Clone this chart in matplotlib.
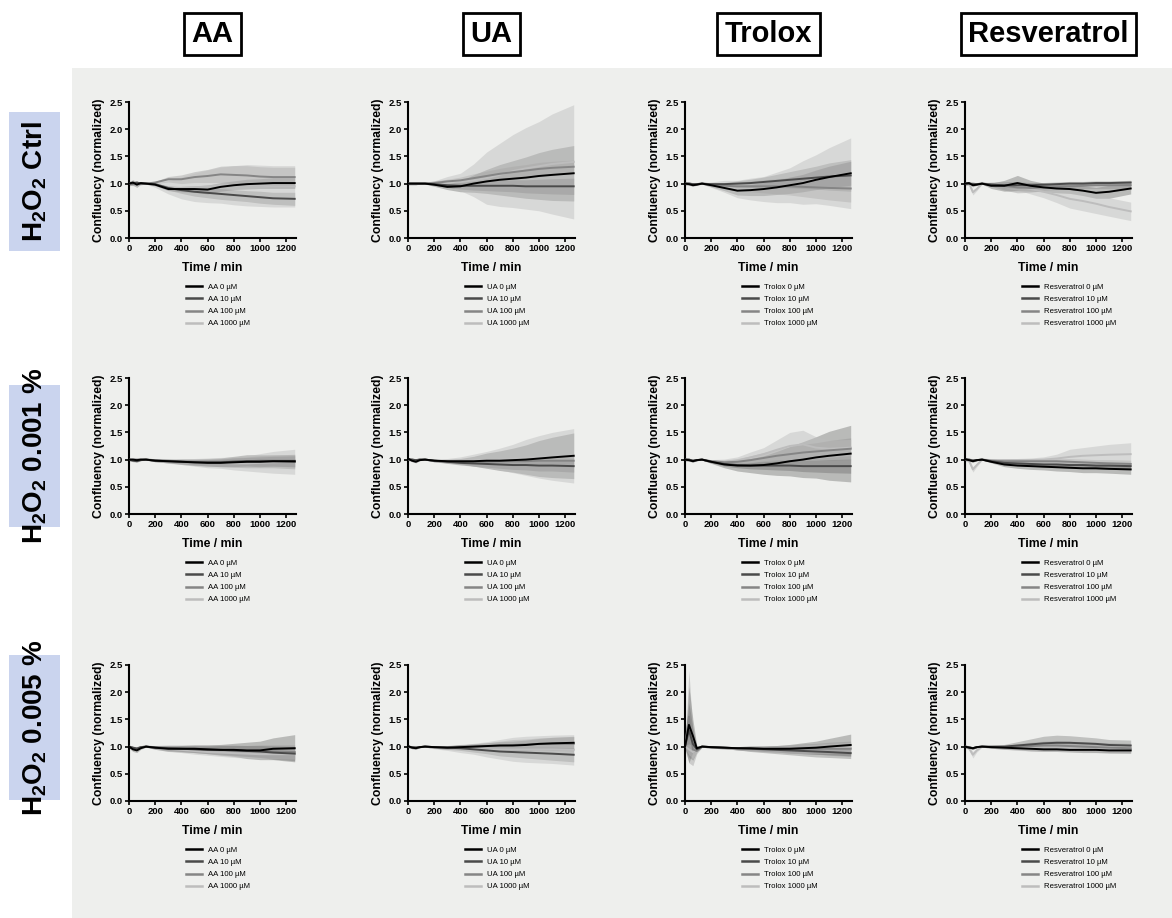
import matplotlib
matplotlib.use("Agg")
import matplotlib.pyplot as plt
from matplotlib.patches import Rectangle
import numpy as np

plt.rcParams['font.family'] = ['Liberation Sans', 'DejaVu Sans']
plt.rcParams['mathtext.default'] = 'regular'

# ---- data ----
drugs = ["AA", "UA", "Trolox", "Resveratrol"]
doses = [0, 10, 100, 1000]
row_labels = ["H$_2$O$_2$ Ctrl", "H$_2$O$_2$ 0.001 %", "H$_2$O$_2$ 0.005 %"]

time_min = [0, 30, 60, 90, 130, 200, 300, 400, 500, 600, 700, 800, 900, 1000, 1100, 1265]

# row 1: H2O2 ctrl
aa_ctrl_mean = [
    [1.0, 1.02, 0.98, 1.01, 1.0, 0.98, 0.9, 0.9, 0.9, 0.89, 0.94, 0.97, 0.99, 1.0, 1.01, 1.01],
    [1.0, 1.0, 1.02, 1.0, 1.0, 0.99, 0.92, 0.88, 0.85, 0.83, 0.81, 0.79, 0.77, 0.75, 0.73, 0.72],
    [1.0, 1.01, 1.0, 1.0, 1.0, 1.02, 1.08, 1.08, 1.12, 1.14, 1.17, 1.16, 1.15, 1.13, 1.12, 1.12],
    [1.0, 1.0, 1.0, 1.0, 1.0, 0.97, 0.93, 0.92, 0.93, 0.95, 0.97, 0.97, 0.97, 0.96, 0.95, 0.95]]
aa_ctrl_sd = [
    [0.04, 0.05, 0.05, 0.02, 0.01, 0.02, 0.03, 0.05, 0.06, 0.08, 0.08, 0.08, 0.09, 0.09, 0.1, 0.1],
    [0.03, 0.03, 0.03, 0.02, 0.01, 0.02, 0.04, 0.06, 0.08, 0.09, 0.1, 0.1, 0.1, 0.11, 0.11, 0.12],
    [0.02, 0.03, 0.03, 0.02, 0.01, 0.02, 0.05, 0.08, 0.1, 0.12, 0.15, 0.17, 0.18, 0.18, 0.18, 0.18],
    [0.03, 0.04, 0.04, 0.02, 0.01, 0.04, 0.12, 0.2, 0.26, 0.3, 0.33, 0.36, 0.38, 0.38, 0.38, 0.38]]

ua_ctrl_mean = [
    [1.0, 1.0, 1.0, 1.0, 1.0, 0.98, 0.94, 0.95, 1.0, 1.04, 1.07, 1.09, 1.11, 1.14, 1.16, 1.19],
    [1.0, 1.0, 1.0, 1.0, 1.0, 0.99, 0.97, 0.96, 0.96, 0.96, 0.96, 0.96, 0.95, 0.95, 0.95, 0.95],
    [1.0, 1.0, 1.0, 1.0, 1.0, 1.01, 1.04, 1.06, 1.1, 1.14, 1.18, 1.21, 1.24, 1.27, 1.29, 1.31],
    [1.0, 1.0, 1.0, 1.0, 1.0, 1.02, 1.05, 1.03, 1.06, 1.1, 1.16, 1.23, 1.28, 1.32, 1.36, 1.4]]
ua_ctrl_sd = [
    [0.02, 0.02, 0.02, 0.01, 0.01, 0.03, 0.05, 0.1, 0.16, 0.22, 0.28, 0.33, 0.38, 0.43, 0.47, 0.51],
    [0.02, 0.02, 0.02, 0.01, 0.01, 0.02, 0.04, 0.06, 0.08, 0.09, 0.1, 0.11, 0.12, 0.13, 0.14, 0.15],
    [0.02, 0.02, 0.02, 0.01, 0.01, 0.02, 0.04, 0.06, 0.08, 0.09, 0.1, 0.11, 0.11, 0.12, 0.12, 0.12],
    [0.02, 0.02, 0.02, 0.01, 0.01, 0.03, 0.08, 0.16, 0.3, 0.48, 0.58, 0.67, 0.75, 0.82, 0.92, 1.05]]

trolox_ctrl_mean = [
    [1.0, 0.99, 0.97, 0.98, 1.0, 0.97, 0.92, 0.87, 0.88, 0.9, 0.93, 0.97, 1.01, 1.07, 1.12, 1.19],
    [1.0, 1.0, 0.99, 0.99, 1.0, 0.99, 0.99, 1.0, 1.01, 1.03, 1.05, 1.07, 1.09, 1.11, 1.13, 1.15],
    [1.0, 1.0, 0.99, 0.99, 1.0, 0.98, 0.96, 0.95, 0.95, 0.95, 0.95, 0.95, 0.94, 0.93, 0.92, 0.91],
    [1.0, 1.0, 0.99, 0.99, 1.0, 0.98, 0.95, 0.9, 0.9, 0.9, 0.93, 0.97, 1.02, 1.08, 1.13, 1.19]]
trolox_ctrl_sd = [
    [0.02, 0.02, 0.02, 0.01, 0.01, 0.03, 0.05, 0.08, 0.1, 0.12, 0.13, 0.15, 0.16, 0.18, 0.2, 0.22],
    [0.02, 0.02, 0.02, 0.01, 0.01, 0.02, 0.03, 0.05, 0.07, 0.09, 0.12, 0.15, 0.18, 0.21, 0.25, 0.29],
    [0.02, 0.02, 0.02, 0.01, 0.01, 0.03, 0.05, 0.08, 0.1, 0.12, 0.14, 0.16, 0.18, 0.2, 0.22, 0.25],
    [0.03, 0.03, 0.03, 0.01, 0.01, 0.05, 0.11, 0.16, 0.2, 0.23, 0.28, 0.32, 0.4, 0.45, 0.53, 0.65]]

resv_ctrl_mean = [
    [1.0, 1.01, 0.97, 0.98, 1.0, 0.96, 0.96, 1.01, 0.96, 0.93, 0.91, 0.9, 0.87, 0.83, 0.85, 0.91],
    [1.0, 1.0, 0.99, 0.99, 1.0, 0.98, 0.97, 0.97, 0.97, 0.98, 0.99, 1.0, 1.0, 1.01, 1.01, 1.02],
    [1.0, 1.0, 1.0, 0.99, 1.0, 0.99, 0.96, 0.93, 0.92, 0.93, 0.94, 0.95, 0.96, 0.97, 0.97, 0.97],
    [1.0, 1.01, 0.84, 0.9, 1.0, 0.98, 0.97, 0.95, 0.9, 0.85, 0.79, 0.72, 0.68, 0.63, 0.57, 0.49]]
resv_ctrl_sd = [
    [0.03, 0.03, 0.03, 0.01, 0.01, 0.05, 0.1, 0.14, 0.1, 0.08, 0.08, 0.08, 0.09, 0.1, 0.12, 0.1],
    [0.02, 0.02, 0.02, 0.01, 0.01, 0.03, 0.05, 0.06, 0.05, 0.04, 0.04, 0.04, 0.04, 0.04, 0.04, 0.04],
    [0.02, 0.02, 0.02, 0.01, 0.01, 0.04, 0.08, 0.1, 0.08, 0.06, 0.05, 0.05, 0.05, 0.06, 0.06, 0.07],
    [0.03, 0.03, 0.05, 0.03, 0.01, 0.03, 0.05, 0.07, 0.09, 0.11, 0.14, 0.17, 0.18, 0.18, 0.17, 0.17]]

# row 2: H2O2 0.001 %
aa_low_mean = [
    [1.0, 1.0, 0.99, 1.0, 1.0, 0.98, 0.97, 0.96, 0.95, 0.94, 0.94, 0.95, 0.96, 0.96, 0.97, 0.97],
    [1.0, 0.98, 0.97, 0.99, 1.0, 0.98, 0.97, 0.96, 0.95, 0.95, 0.95, 0.96, 0.97, 0.97, 0.97, 0.96],
    [1.0, 1.0, 1.0, 1.0, 1.0, 0.99, 0.98, 0.97, 0.96, 0.96, 0.96, 0.97, 0.97, 0.98, 0.98, 0.98],
    [1.0, 1.0, 1.0, 1.0, 1.0, 0.99, 0.97, 0.96, 0.95, 0.94, 0.94, 0.93, 0.93, 0.94, 0.95, 0.96]]
aa_low_sd = [
    [0.02, 0.02, 0.02, 0.01, 0.01, 0.02, 0.03, 0.04, 0.05, 0.06, 0.07, 0.08, 0.08, 0.09, 0.09, 0.1],
    [0.02, 0.02, 0.02, 0.01, 0.01, 0.02, 0.03, 0.05, 0.06, 0.07, 0.08, 0.1, 0.12, 0.12, 0.12, 0.13],
    [0.02, 0.02, 0.02, 0.01, 0.01, 0.02, 0.03, 0.04, 0.05, 0.05, 0.06, 0.07, 0.08, 0.09, 0.1, 0.12],
    [0.02, 0.02, 0.02, 0.01, 0.01, 0.02, 0.04, 0.05, 0.07, 0.09, 0.1, 0.12, 0.14, 0.17, 0.2, 0.23]]

ua_low_mean = [
    [1.02, 0.98, 0.96, 0.99, 1.0, 0.98, 0.97, 0.97, 0.97, 0.98, 0.98, 0.99, 1.0, 1.02, 1.04, 1.07],
    [1.0, 1.0, 0.99, 1.0, 1.0, 0.98, 0.96, 0.94, 0.93, 0.92, 0.91, 0.9, 0.9, 0.89, 0.89, 0.88],
    [1.0, 1.0, 0.99, 1.0, 1.0, 0.98, 0.97, 0.96, 0.96, 0.96, 0.97, 0.97, 0.97, 0.98, 0.98, 0.98],
    [1.0, 1.0, 0.98, 1.0, 1.0, 0.98, 0.98, 0.98, 0.99, 1.0, 1.01, 1.02, 1.04, 1.05, 1.06, 1.07]]
ua_low_sd = [
    [0.02, 0.02, 0.02, 0.01, 0.01, 0.02, 0.03, 0.05, 0.09, 0.14, 0.18, 0.22, 0.27, 0.33, 0.37, 0.42],
    [0.02, 0.02, 0.02, 0.01, 0.01, 0.02, 0.03, 0.04, 0.05, 0.06, 0.07, 0.08, 0.09, 0.1, 0.1, 0.11],
    [0.02, 0.02, 0.02, 0.01, 0.01, 0.02, 0.03, 0.04, 0.05, 0.05, 0.06, 0.06, 0.07, 0.07, 0.08, 0.08],
    [0.02, 0.02, 0.02, 0.01, 0.01, 0.02, 0.04, 0.07, 0.11, 0.15, 0.2, 0.26, 0.33, 0.39, 0.44, 0.5]]

trolox_low_mean = [
    [1.0, 0.99, 0.97, 0.99, 1.0, 0.96, 0.91, 0.89, 0.89, 0.9, 0.93, 0.97, 1.0, 1.04, 1.07, 1.11],
    [1.0, 1.0, 0.98, 0.99, 1.0, 0.96, 0.92, 0.9, 0.89, 0.89, 0.89, 0.89, 0.88, 0.88, 0.88, 0.88],
    [1.0, 1.0, 0.98, 0.99, 1.0, 0.97, 0.95, 0.96, 0.99, 1.03, 1.07, 1.1, 1.13, 1.15, 1.17, 1.2],
    [1.0, 1.0, 0.98, 0.99, 1.0, 0.97, 0.96, 0.98, 1.04, 1.1, 1.18, 1.25, 1.28, 1.22, 1.2, 1.22]]
trolox_low_sd = [
    [0.02, 0.02, 0.02, 0.01, 0.01, 0.03, 0.06, 0.1, 0.13, 0.17, 0.22, 0.27, 0.33, 0.38, 0.45, 0.52],
    [0.02, 0.02, 0.02, 0.01, 0.01, 0.02, 0.04, 0.05, 0.06, 0.07, 0.08, 0.09, 0.1, 0.11, 0.12, 0.13],
    [0.02, 0.02, 0.02, 0.01, 0.01, 0.03, 0.04, 0.06, 0.08, 0.1, 0.12, 0.14, 0.15, 0.16, 0.18, 0.2],
    [0.02, 0.02, 0.02, 0.01, 0.01, 0.03, 0.05, 0.07, 0.1, 0.12, 0.18, 0.25, 0.26, 0.2, 0.16, 0.15]]

resv_low_mean = [
    [1.01, 0.99, 0.97, 0.99, 1.0, 0.96, 0.91, 0.89, 0.88, 0.87, 0.86, 0.85, 0.84, 0.84, 0.83, 0.82],
    [1.0, 1.0, 0.98, 0.99, 1.0, 0.97, 0.94, 0.93, 0.92, 0.91, 0.91, 0.9, 0.9, 0.89, 0.89, 0.88],
    [1.0, 1.0, 0.99, 0.99, 1.0, 0.98, 0.97, 0.97, 0.97, 0.97, 0.97, 0.96, 0.95, 0.94, 0.93, 0.92],
    [1.0, 0.98, 0.82, 0.9, 1.0, 0.99, 0.99, 0.99, 0.99, 1.0, 1.02, 1.05, 1.07, 1.08, 1.09, 1.1]]
resv_low_sd = [
    [0.02, 0.02, 0.02, 0.01, 0.01, 0.02, 0.04, 0.05, 0.06, 0.06, 0.07, 0.07, 0.08, 0.08, 0.08, 0.09],
    [0.02, 0.02, 0.02, 0.01, 0.01, 0.02, 0.03, 0.04, 0.04, 0.05, 0.05, 0.06, 0.06, 0.06, 0.07, 0.07],
    [0.02, 0.02, 0.02, 0.01, 0.01, 0.02, 0.03, 0.04, 0.05, 0.05, 0.05, 0.06, 0.06, 0.06, 0.07, 0.07],
    [0.02, 0.03, 0.05, 0.03, 0.01, 0.02, 0.03, 0.03, 0.04, 0.05, 0.08, 0.14, 0.15, 0.17, 0.19, 0.21]]

# row 3: H2O2 0.005 %
aa_high_mean = [
    [1.0, 0.95, 0.93, 0.97, 1.0, 0.98, 0.96, 0.96, 0.96, 0.95, 0.94, 0.94, 0.93, 0.93, 0.96, 0.97],
    [1.0, 0.98, 0.96, 0.99, 1.0, 0.98, 0.97, 0.96, 0.95, 0.94, 0.94, 0.93, 0.92, 0.91, 0.89, 0.87],
    [1.0, 0.98, 0.97, 0.99, 1.0, 0.99, 0.98, 0.97, 0.96, 0.95, 0.94, 0.93, 0.92, 0.92, 0.91, 0.9],
    [1.0, 0.97, 0.95, 0.98, 1.0, 0.98, 0.96, 0.94, 0.92, 0.9, 0.89, 0.88, 0.87, 0.86, 0.86, 0.86]]
aa_high_sd = [
    [0.03, 0.04, 0.04, 0.02, 0.01, 0.03, 0.05, 0.06, 0.07, 0.08, 0.1, 0.12, 0.15, 0.17, 0.2, 0.25],
    [0.02, 0.02, 0.02, 0.01, 0.01, 0.02, 0.04, 0.05, 0.06, 0.07, 0.08, 0.09, 0.1, 0.11, 0.12, 0.13],
    [0.02, 0.02, 0.02, 0.01, 0.01, 0.03, 0.05, 0.06, 0.07, 0.08, 0.09, 0.1, 0.1, 0.11, 0.12, 0.13],
    [0.02, 0.03, 0.03, 0.01, 0.01, 0.03, 0.04, 0.05, 0.06, 0.06, 0.07, 0.08, 0.08, 0.08, 0.08, 0.09]]

ua_high_mean = [
    [1.01, 0.98, 0.97, 0.99, 1.0, 0.99, 0.98, 0.99, 1.0, 1.01, 1.02, 1.02, 1.03, 1.05, 1.06, 1.07],
    [1.0, 0.99, 0.98, 0.99, 1.0, 0.99, 0.98, 0.97, 0.95, 0.93, 0.91, 0.9, 0.89, 0.88, 0.87, 0.85],
    [1.0, 0.99, 0.99, 0.99, 1.0, 0.99, 0.99, 1.0, 1.0, 1.01, 1.02, 1.03, 1.04, 1.05, 1.05, 1.05],
    [1.0, 0.98, 0.97, 0.99, 1.0, 0.98, 0.97, 0.96, 0.96, 0.95, 0.95, 0.95, 0.95, 0.95, 0.95, 0.94]]
ua_high_sd = [
    [0.02, 0.02, 0.02, 0.01, 0.01, 0.02, 0.03, 0.04, 0.05, 0.06, 0.07, 0.08, 0.09, 0.1, 0.11, 0.12],
    [0.02, 0.02, 0.02, 0.01, 0.01, 0.02, 0.03, 0.04, 0.05, 0.06, 0.08, 0.09, 0.1, 0.11, 0.12, 0.13],
    [0.02, 0.02, 0.02, 0.01, 0.01, 0.02, 0.03, 0.04, 0.05, 0.06, 0.08, 0.1, 0.1, 0.11, 0.12, 0.13],
    [0.02, 0.02, 0.02, 0.01, 0.01, 0.02, 0.04, 0.07, 0.1, 0.14, 0.18, 0.22, 0.24, 0.25, 0.26, 0.28]]

trolox_high_mean = [
    [1.0, 1.4, 1.2, 0.97, 1.0, 0.99, 0.98, 0.97, 0.97, 0.96, 0.96, 0.96, 0.97, 0.98, 1.0, 1.03],
    [1.0, 1.3, 1.05, 0.95, 1.0, 0.99, 0.98, 0.97, 0.96, 0.95, 0.94, 0.93, 0.92, 0.91, 0.9, 0.88],
    [1.0, 1.55, 0.95, 0.92, 1.0, 0.99, 0.98, 0.97, 0.96, 0.96, 0.96, 0.96, 0.96, 0.96, 0.96, 0.96],
    [1.0, 0.95, 0.9, 0.95, 1.0, 0.99, 0.98, 0.97, 0.96, 0.95, 0.95, 0.95, 0.95, 0.96, 0.97, 0.98]]
trolox_high_sd = [
    [0.03, 0.7, 0.3, 0.05, 0.01, 0.02, 0.02, 0.03, 0.04, 0.05, 0.06, 0.08, 0.1, 0.12, 0.15, 0.2],
    [0.03, 0.5, 0.3, 0.05, 0.01, 0.02, 0.02, 0.03, 0.05, 0.06, 0.07, 0.08, 0.09, 0.1, 0.1, 0.1],
    [0.03, 0.85, 0.3, 0.05, 0.01, 0.02, 0.02, 0.03, 0.04, 0.05, 0.06, 0.07, 0.09, 0.1, 0.12, 0.14],
    [0.03, 0.1, 0.12, 0.05, 0.01, 0.02, 0.02, 0.03, 0.04, 0.05, 0.06, 0.07, 0.08, 0.08, 0.09, 0.1]]

resv_high_mean = [
    [1.0, 0.98, 0.97, 0.99, 1.0, 0.99, 0.98, 0.97, 0.96, 0.95, 0.95, 0.94, 0.94, 0.94, 0.93, 0.93],
    [1.0, 0.99, 0.97, 0.99, 1.0, 1.0, 1.0, 1.02, 1.04, 1.06, 1.07, 1.07, 1.06, 1.05, 1.03, 1.02],
    [1.0, 0.99, 0.97, 0.99, 1.0, 0.99, 0.99, 1.0, 1.01, 1.02, 1.02, 1.01, 1.0, 0.99, 0.98, 0.97],
    [1.0, 0.97, 0.85, 0.93, 1.0, 0.99, 0.98, 0.97, 0.97, 0.97, 0.97, 0.97, 0.96, 0.96, 0.96, 0.96]]
resv_high_sd = [
    [0.02, 0.02, 0.02, 0.01, 0.01, 0.02, 0.03, 0.03, 0.04, 0.04, 0.04, 0.04, 0.05, 0.05, 0.05, 0.05],
    [0.02, 0.02, 0.02, 0.01, 0.01, 0.02, 0.04, 0.07, 0.1, 0.13, 0.14, 0.13, 0.12, 0.11, 0.1, 0.1],
    [0.02, 0.02, 0.02, 0.01, 0.01, 0.02, 0.03, 0.05, 0.07, 0.08, 0.09, 0.09, 0.09, 0.09, 0.09, 0.09],
    [0.02, 0.03, 0.06, 0.03, 0.01, 0.02, 0.03, 0.04, 0.05, 0.06, 0.06, 0.06, 0.06, 0.06, 0.06, 0.06]]

panels = [
    [(aa_ctrl_mean, aa_ctrl_sd), (ua_ctrl_mean, ua_ctrl_sd),
     (trolox_ctrl_mean, trolox_ctrl_sd), (resv_ctrl_mean, resv_ctrl_sd)],
    [(aa_low_mean, aa_low_sd), (ua_low_mean, ua_low_sd),
     (trolox_low_mean, trolox_low_sd), (resv_low_mean, resv_low_sd)],
    [(aa_high_mean, aa_high_sd), (ua_high_mean, ua_high_sd),
     (trolox_high_mean, trolox_high_sd), (resv_high_mean, resv_high_sd)],
]

line_colors = ['#000000', '#4a4a4a', '#858585', '#bdbdbd']
band_alpha = [0.22, 0.28, 0.32, 0.45]

# ---- layout (pixels) ----
W, H = 1172, 918
col_left = [129, 408, 685, 965]
row_top = [102, 378, 665]
ax_w, ax_h = 167, 136
row_box = [(112, 251), (385, 527), (655, 800)]

fig = plt.figure(figsize=(W / 100, H / 100), dpi=100)
fig.patch.set_facecolor('white')
bg = Rectangle((72 / W, 0), 1 - 72 / W, 1 - 68 / H, transform=fig.transFigure,
               facecolor='#eeefed', edgecolor='none', zorder=-5)
fig.add_artist(bg)

t = np.array(time_min)
for r in range(3):
    for c in range(4):
        ax = fig.add_axes([col_left[c] / W, 1 - (row_top[r] + ax_h) / H, ax_w / W, ax_h / H])
        ax.set_facecolor('none')
        means, sds = panels[r][c]
        for k in range(4):
            m = np.array(means[k])
            s = np.array(sds[k])
            ax.fill_between(t, m - s, m + s, color=line_colors[k], alpha=band_alpha[k],
                            linewidth=0)
        handles = []
        for k in range(4):
            h, = ax.plot(t, means[k], color=line_colors[k], lw=1.4, zorder=5 - k,
                         label=f"{drugs[c]} {doses[k]} µM")
            handles.append(h)
        ax.set_xlim(0, 1275)
        ax.set_ylim(0, 2.5)
        ax.set_xticks([0, 200, 400, 600, 800, 1000, 1200])
        ax.set_yticks([0, 0.5, 1.0, 1.5, 2.0, 2.5])
        ax.set_yticklabels(['0.0', '0.5', '1.0', '1.5', '2.0', '2.5'])
        for sp in ['top', 'right']:
            ax.spines[sp].set_visible(False)
        for sp in ['left', 'bottom']:
            ax.spines[sp].set_linewidth(1.5)
        ax.tick_params(width=1.2, length=3, labelsize=6.8, pad=1.5)
        for lab in ax.get_xticklabels() + ax.get_yticklabels():
            lab.set_fontweight('bold')
        ax.set_xlabel('Time / min', fontsize=8.8, fontweight='bold', labelpad=6)
        ax.set_ylabel('Confluency (normalized)', fontsize=8.8, fontweight='bold', labelpad=3)
        leg = ax.legend(handles=handles, loc='upper left', bbox_to_anchor=(57 / ax_w, -0.335),
                        frameon=False, fontsize=5.6, borderaxespad=0, borderpad=0,
                        handlelength=2.0, handletextpad=0.8, labelspacing=0.6)
        for ln in leg.get_lines():
            ln.set_linewidth(1.8)

# column headers
for c in range(4):
    fig.text((col_left[c] + ax_w / 2) / W, 1 - 34 / H, drugs[c], ha='center', va='center',
             fontsize=21, fontweight='bold',
             bbox=dict(boxstyle='square,pad=0.25', facecolor='white', edgecolor='black', lw=2))

# row labels
for r in range(3):
    y0, y1 = row_box[r]
    fig.add_artist(Rectangle((9 / W, 1 - y1 / H), 51 / W, (y1 - y0) / H,
                             transform=fig.transFigure, facecolor='#cad4ee',
                             edgecolor='none', zorder=1))
    fig.text(35 / W, 1 - (y0 + y1) / 2 / H, row_labels[r], rotation=90, ha='center',
             va='center', fontsize=20, fontweight='bold', zorder=2)

fig.savefig('out.png', dpi=100)
